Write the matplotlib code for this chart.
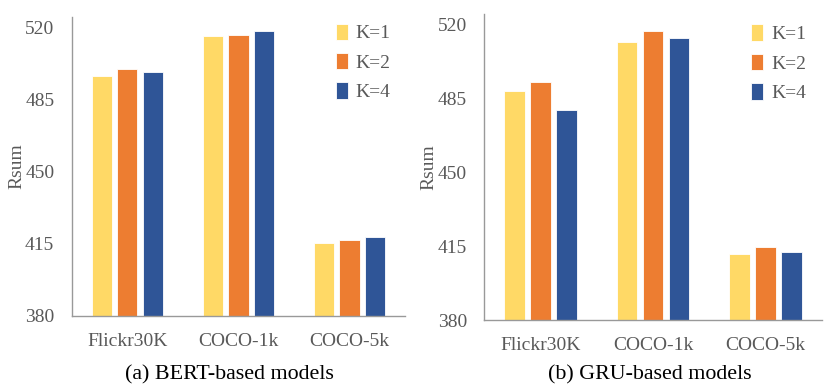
import matplotlib.pyplot as plt
import numpy as np

plt.rcParams['font.family'] = ['Liberation Serif', 'DejaVu Serif']

categories = ['Flickr30K', 'COCO-1k', 'COCO-5k']
series_names = ['K=1', 'K=2', 'K=4']
colors = ['#FFD966', '#ED7D31', '#2F5597']

# BERT-based models
bert_k1 = [496.4, 516.0, 415.3]
bert_k2 = [500.2, 516.7, 417.1]
bert_k4 = [498.3, 518.5, 418.2]

# GRU-based models
gru_k1 = [488.6, 512.0, 411.4]
gru_k2 = [493.0, 517.0, 414.6]
gru_k4 = [479.7, 513.7, 412.2]

yticks = [380, 415, 450, 485, 520]
captions = ['(a) BERT-based models', '(b) GRU-based models']

gray = '#595959'
fig = plt.figure(figsize=(8.3, 3.88), dpi=100)

ax1 = fig.add_axes([0.0864, 0.1856, 0.4016, 0.7704])
ax2 = fig.add_axes([0.5835, 0.1745, 0.4065, 0.7895])

x = np.arange(len(categories))
w = 0.183
step = 0.23

panels = [(ax1, [bert_k1, bert_k2, bert_k4], captions[0], 1.037, 0.277),
          (ax2, [gru_k1, gru_k2, gru_k4], captions[1], 1.023, 0.783)]

for ax, data, cap, leg_y, cap_x in panels:
    for i, (vals, name, c) in enumerate(zip(data, series_names, colors)):
        ax.bar(x + (i - 1) * step, np.array(vals) - 380, bottom=380, width=w,
               color=c, edgecolor='white', linewidth=0.6, label=name)
    ax.set_xlim(-0.5, 2.5)
    ax.set_ylim(380, 525.2)
    ax.set_yticks(yticks)
    ax.set_xticks(x)
    ax.set_xticklabels(categories)
    ax.tick_params(length=0, labelsize=14, colors=gray)
    ax.tick_params(axis='x', pad=12)
    ax.tick_params(axis='y', pad=12.5)
    for s in ['top', 'right']:
        ax.spines[s].set_visible(False)
    for s in ['left', 'bottom']:
        ax.spines[s].set_color('#999999')
        ax.spines[s].set_linewidth(1.0)
    ax.set_ylabel('Rsum', fontsize=14, color=gray, labelpad=0)
    ax.legend(loc='upper left', bbox_to_anchor=(0.74, leg_y), frameon=False,
              fontsize=14, handlelength=0.6, handleheight=0.9,
              handletextpad=0.4, labelspacing=0.55, labelcolor=gray)
    fig.text(cap_x, 0.0335, cap, ha='center', va='center',
             fontsize=15.8, color='black')

fig.savefig('out.png', dpi=100)
